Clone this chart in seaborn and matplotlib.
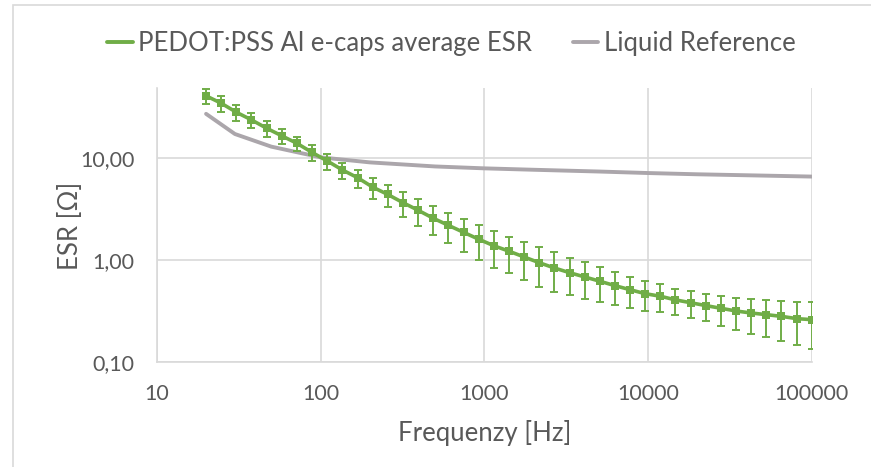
import numpy as np
import pandas as pd
import matplotlib
matplotlib.use("Agg")
import matplotlib.pyplot as plt
from matplotlib.ticker import FixedLocator, FixedFormatter, NullLocator
from matplotlib.patches import Rectangle
from matplotlib.lines import Line2D
import seaborn as sns

# Dados
freq_pedot = [20, 24.75, 30.62, 37.88, 46.87, 58.0, 71.76, 88.8, 109.9, 135.9,
              168.2, 208.1, 257.5, 318.6, 394.2, 487.8, 603.5, 746.7, 924.0, 1143,
              1414, 1750, 2165, 2679, 3315, 4102, 5075, 6279, 7770, 9614,
              11892, 14714, 18206, 22527, 27872, 34488, 42672, 52799, 65330, 80835,
              100000]
esr_pedot = [41.0, 34.7, 28.3, 23.8, 19.7, 16.6, 14.0, 11.4, 9.4, 7.67,
             6.44, 5.2, 4.4, 3.66, 3.08, 2.57, 2.19, 1.87, 1.60, 1.38,
             1.22, 1.07, 0.94, 0.834, 0.750, 0.681, 0.618, 0.559, 0.510, 0.466,
             0.440, 0.405, 0.380, 0.356, 0.335, 0.315, 0.301, 0.290, 0.279, 0.265,
             0.259]
err_pedot = [6.7, 6.0, 5.0, 4.2, 3.6, 2.9, 2.2, 2.0, 1.7, 1.4,
             1.3, 1.25, 1.1, 1.0, 0.9, 0.8, 0.73, 0.66, 0.6, 0.54,
             0.48, 0.43, 0.40, 0.35, 0.30, 0.27, 0.23, 0.20, 0.17, 0.15,
             0.135, 0.116, 0.112, 0.105, 0.11, 0.11, 0.113, 0.115, 0.119, 0.12,
             0.125]

freq_ref = [20, 30, 50, 100, 200, 500, 1000, 2000, 5000, 10000, 20000, 50000, 100000]
esr_ref = [27.3, 17.3, 13.0, 10.2, 9.1, 8.3, 7.95, 7.7, 7.4, 7.15, 6.95, 6.75, 6.6]

label_pedot = 'PEDOT:PSS Al e-caps average ESR'
label_ref = 'Liquid Reference'

verde = '#70AD47'
cinza = '#ABA6AB'
texto = '#595959'
grade = '#D9D9D9'

sns.set_theme(style='white')
plt.rcParams['font.family'] = ['Lato', 'DejaVu Sans']

fig, ax = plt.subplots(figsize=(8.71, 4.67), dpi=100)
fig.subplots_adjust(left=0.18, right=0.932, top=0.811, bottom=0.2255)

df_pedot = pd.DataFrame({'f': freq_pedot, 'esr': esr_pedot})
df_ref = pd.DataFrame({'f': freq_ref, 'esr': esr_ref})

ax.errorbar(freq_pedot, esr_pedot, yerr=err_pedot, fmt='none', ecolor=verde,
            elinewidth=1.4, capsize=3, capthick=1.4, zorder=3)
sns.lineplot(data=df_pedot, x='f', y='esr', ax=ax, color=verde, lw=2.6,
             marker='s', markersize=5.3, markeredgewidth=0, zorder=4)
sns.lineplot(data=df_ref, x='f', y='esr', ax=ax, color=cinza, lw=2.8, zorder=2)

ax.set_xscale('log')
ax.set_yscale('log')
ax.set_xlim(10, 100000)
ax.set_ylim(0.1, 48.7)

ax.xaxis.set_major_locator(FixedLocator([10, 100, 1000, 10000, 100000]))
ax.xaxis.set_major_formatter(FixedFormatter(['10', '100', '1000', '10000', '100000']))
ax.xaxis.set_minor_locator(NullLocator())
ax.yaxis.set_major_locator(FixedLocator([0.1, 1, 10]))
ax.yaxis.set_major_formatter(FixedFormatter(['0,10', '1,00', '10,00']))
ax.yaxis.set_minor_locator(NullLocator())

ax.grid(True, which='major', color=grade, lw=1.2)
ax.tick_params(axis='both', length=0, labelsize=15.5, colors=texto)
ax.tick_params(axis='x', pad=16)
ax.tick_params(axis='y', pad=16)

for lado in ['top', 'right']:
    ax.spines[lado].set_visible(False)
for lado in ['left', 'bottom']:
    ax.spines[lado].set_color(grade)
    ax.spines[lado].set_linewidth(1.2)

ax.set_xlabel('Frequenzy [Hz]', fontsize=18.5, color=texto)
ax.set_ylabel('ESR [\u03a9]', fontsize=18.5, color=texto)
ax.xaxis.set_label_coords(0.5, -0.215)
ax.yaxis.set_label_coords(-0.112, 0.496)

# Legenda sem marcadores
handles = [Line2D([0], [0], color=verde, lw=2.8), Line2D([0], [0], color=cinza, lw=2.8)]
fig.legend(handles, [label_pedot, label_ref], loc='center', bbox_to_anchor=(0.518, 1 - 43 / 467),
           ncol=2, frameon=False, fontsize=18.5, labelcolor=texto, handlelength=1.0,
           handletextpad=0.2, columnspacing=1.6)

# Borda da área do gráfico
fig.patches.append(Rectangle((13 / 871, -0.05), 1.1, 1 - 5 / 467 + 0.05, transform=fig.transFigure,
                             fill=False, edgecolor=grade, lw=1.2))

fig.savefig('out.png', dpi=100)
